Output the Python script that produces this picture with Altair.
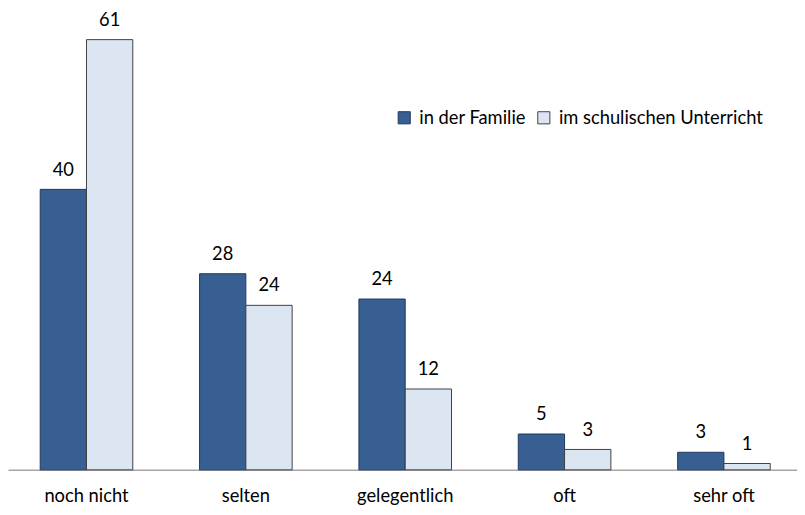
import altair as alt
import pandas as pd

categories = ["noch nicht", "selten", "gelegentlich", "oft", "sehr oft"]
series = ["in der Familie", "im schulischen Unterricht"]
familie = [39.9, 27.9, 24.3, 5.1, 2.5]
schule = [61.2, 23.4, 11.5, 2.9, 0.9]
labels_familie = ["40", "28", "24", "5", "3"]
labels_schule = ["61", "24", "12", "3", "1"]

rows = []
for c, v, l in zip(categories, familie, labels_familie):
    rows.append({"cat": c, "series": series[0], "value": v, "label": l})
for c, v, l in zip(categories, schule, labels_schule):
    rows.append({"cat": c, "series": series[1], "value": v, "label": l})
df = pd.DataFrame(rows)

FONT = "Lato"
FS = 18.5

x = alt.X("cat:N", sort=categories, title=None,
          scale=alt.Scale(paddingInner=0.419, paddingOuter=0.185, align=0.546),
          axis=alt.Axis(labelAngle=0, labelFont=FONT, labelFontSize=FS, labelColor="#000000",
                        ticks=False, domainColor="#a6a6a6", domainWidth=1.5,
                        labelPadding=17))
xo = alt.XOffset("series:N", sort=series, scale=alt.Scale(paddingInner=0, paddingOuter=0))
y = alt.Y("value:Q", scale=alt.Scale(domain=[0, 64.5], nice=False), axis=None)

bars = alt.Chart(df).mark_bar(strokeWidth=1).encode(
    x=x, xOffset=xo, y=y,
    fill=alt.Fill("series:N", sort=series,
                  scale=alt.Scale(domain=series, range=["#375f91", "#dce6f2"]),
                  legend=alt.Legend(title=None, orient="none", legendX=391, legendY=93,
                                    direction="horizontal", symbolType="square",
                                    symbolSize=150, symbolStrokeColor="#333333",
                                    symbolStrokeWidth=1, labelFont=FONT, labelFontSize=FS,
                                    labelColor="#000000", columnPadding=8, labelOffset=6,
                                    labelLimit=400)),
    stroke=alt.Stroke("series:N", sort=series,
                      scale=alt.Scale(domain=series, range=["#1f3a60", "#404040"]),
                      legend=None),
)

text = alt.Chart(df).mark_text(font=FONT, fontSize=FS, baseline="bottom", dy=-10, color="#000000").encode(
    x=x, xOffset=xo, y=y, text="label:N"
)

chart = (bars + text).properties(
    width=797, height=458,
    autosize=alt.AutoSizeParams(type="none"),
    padding={"left": 0, "top": 6, "right": 0, "bottom": 34},
).configure_view(stroke=None)

chart.save("out.html", embed_options={"renderer": "svg", "actions": False})
